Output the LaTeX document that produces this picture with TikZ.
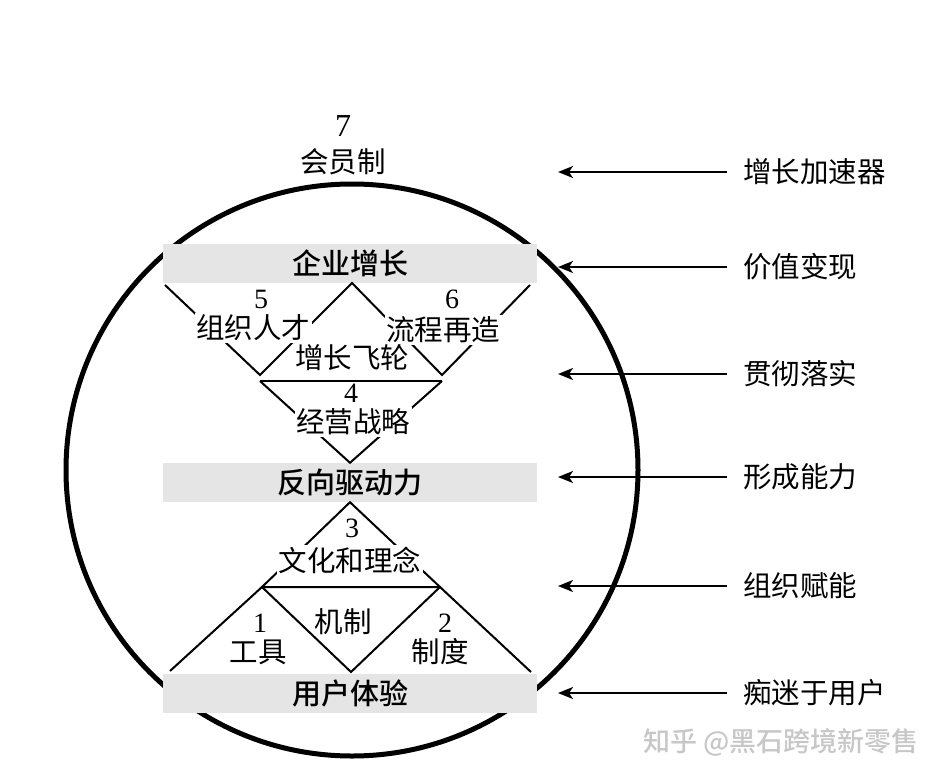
\documentclass[tikz,border=0pt]{standalone}
\usepackage{fontspec}
\setmainfont{Liberation Serif}
\newfontfamily\cjk{Noto Sans CJK SC}
\newfontfamily\cjkmid{Noto Sans CJK SC Medium}
\usetikzlibrary{arrows.meta,positioning}

\begin{document}
\begin{tikzpicture}[x=1pt, y=-1pt,
    bar/.style={fill=black!10, minimum width=374pt, minimum height=39pt, inner sep=0pt,
                font=\fontsize{29}{30}\selectfont\cjkmid},
    lbl/.style={fill=white, inner sep=1.5pt, font=\fontsize{28.5}{30}\selectfont\cjk},
    num/.style={inner sep=0pt, font=\fontsize{28}{30}\selectfont},
    side/.style={anchor=west, inner sep=0pt, font=\fontsize{28.5}{30}\selectfont\cjk},
    link/.style={line width=2pt},
    pull/.style={-{Stealth[length=15pt, width=12pt, inset=4pt]}, line width=2pt}
]
    \useasboundingbox (0,0) rectangle (946,780);

    % Outer circle
    \draw[line width=5pt] (352,470) circle (286pt);

    % Bars
    \node[bar] (growth) at (350,263.5) {企业增长};
    \node[bar] (drive) at (350,482.5) {反向驱动力};
    \node[bar] (ux) at (350,693.5) {用户体验};

    % Upper part: flywheel and strategy
    \coordinate (w1) at (165,285);
    \coordinate (w2) at (260,375);
    \coordinate (w3) at (352,283);
    \coordinate (w4) at (442,375);
    \coordinate (w5) at (530,285);
    \coordinate (s1) at (260,381);
    \coordinate (s2) at (442,381);
    \draw[link] (w1) -- (w2) -- (w3) -- (w4) -- (w5);
    \draw[link] (s1) -- (s2);
    \draw[link] (s1) -- (drive.north) -- (s2);

    % Lower part: culture, tools and rules
    \coordinate (c1) at (262,587);
    \coordinate (c2) at (440,587);
    \coordinate (b1) at (170,671);
    \coordinate (b2) at (351,672);
    \coordinate (b3) at (531,672);
    \draw[link] (c1) -- (drive.south) -- (c2) -- cycle;
    \draw[link] (b1) -- (c1) -- (b2) -- (c2) -- (b3);

    % Labels
    \node[lbl] (member) at (343,162) {会员制};
    \node[num, font=\fontsize{32}{32}\selectfont] (n7) at (343,126) {7};
    \node[lbl] (talent) at (253,328) {组织人才};
    \node[num] (n5) at (261,299) {5};
    \node[lbl] (process) at (443,330) {流程再造};
    \node[num] (n6) at (452,299) {6};
    \node[lbl] (flywheel) at (352,358) {增长飞轮};
    \node[lbl] (strategy) at (353,422) {经营战略};
    \node[num] (n4) at (351,393) {4};
    \node[lbl] (culture) at (350,560) {文化和理念};
    \node[num] (n3) at (352,528) {3};
    \node[lbl, fill=none] (tools) at (258,652) {工具};
    \node[num] (n1) at (260,623) {1};
    \node[lbl, fill=none] (mech) at (343,622) {机制};
    \node[lbl, fill=none] (rules) at (440,652) {制度};
    \node[num] (n2) at (445,623) {2};

    % Right side
    \node[side] (r1) at (743,172) {增长加速器};
    \node[side] (r2) at (743,267) {价值变现};
    \node[side] (r3) at (743,374) {贯彻落实};
    \node[side] (r4) at (743,477) {形成能力};
    \node[side] (r5) at (743,586) {组织赋能};
    \node[side] (r6) at (743,693) {痴迷于用户};
    \coordinate (t1) at (558,172);
    \coordinate (t2) at (558,267);
    \coordinate (t3) at (558,374);
    \coordinate (t4) at (558,477);
    \coordinate (t5) at (558,586);
    \coordinate (t6) at (558,693);
    \draw[pull] ([xshift=-16pt]r1.west) -- (t1);
    \draw[pull] ([xshift=-16pt]r2.west) -- (t2);
    \draw[pull] ([xshift=-16pt]r3.west) -- (t3);
    \draw[pull] ([xshift=-16pt]r4.west) -- (t4);
    \draw[pull] ([xshift=-16pt]r5.west) -- (t5);
    \draw[pull] ([xshift=-16pt]r6.west) -- (t6);

    % Watermark
    \node[text=black!22, font=\fontsize{27}{28}\selectfont\cjkmid] (mark) at (781,742) {知乎 @黑石跨境新零售};
\end{tikzpicture}
\end{document}
